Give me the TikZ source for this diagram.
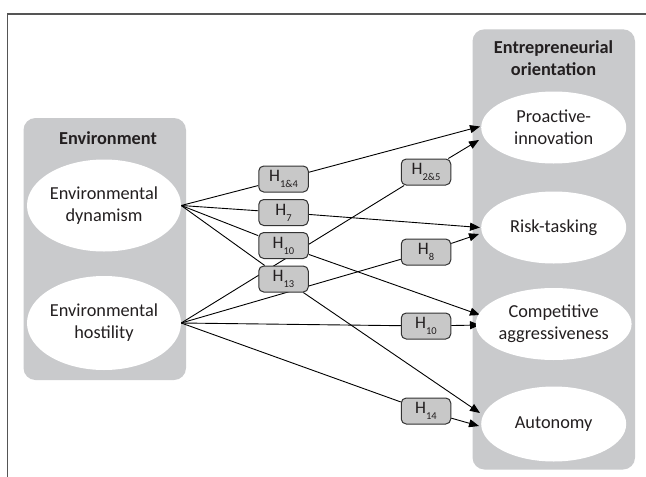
\documentclass[tikz,border=0pt]{standalone}
\usepackage{fontspec}
\setmainfont{Carlito}
\usetikzlibrary{shapes.geometric,arrows.meta}
\pgfdeclarelayer{back}
\pgfdeclarelayer{lines}
\pgfsetlayers{back,lines,main}
\definecolor{boxgray}{HTML}{C9CACC}
\definecolor{hgray}{HTML}{C8C8C8}
\definecolor{framec}{HTML}{555555}
\definecolor{txt}{HTML}{231F20}
\newcommand{\hsub}[1]{H\raisebox{-6pt}{\fontsize{10.5}{10.5}\selectfont #1}}
\begin{document}
\begin{tikzpicture}[x=1pt,y=-1pt,
  ell/.style={ellipse, fill=white, inner sep=0pt, align=center, font=\fontsize{18.3}{22}\selectfont, text=txt},
  hyp/.style={rectangle, rounded corners=5pt, fill=hgray, draw=black!80, line width=1pt, minimum width=49.5pt, minimum height=26pt, inner sep=0pt, font=\fontsize{17.5}{17.5}\selectfont, text=txt},
  conn/.style={line width=0.9pt, black},
  arr/.style={conn, -{Triangle[length=10pt,width=8pt]}},
  container/.style={fill=boxgray, rounded corners=12pt},
  title/.style={font=\bfseries\fontsize{18.3}{22}\selectfont, align=center, text=txt}]
\useasboundingbox (0,0) rectangle (646,477);
\begin{pgfonlayer}{back}
  \fill[white] (0,0) rectangle (646,477);
  \draw[framec, line width=1.5pt] (7.3,478) -- (7.3,14) -- (647,14);
  \fill[container] (23.5,118) rectangle (186,380);
  \fill[container] (472.5,29.3) rectangle (635,469.5);
\end{pgfonlayer}
% titles
\node[title] (envt) at (108,138.5) {Environment};
\node[title] (eot) at (553.5,58) {Entrepreneurial\\orientation};
% ellipses
\node[ell, minimum width=154pt, minimum height=92pt] (dyn) at (104,205.5) {Environmental\\dynamism};
\node[ell, minimum width=154pt, minimum height=94pt] (host) at (104,323) {Environmental\\hostility};
\node[ell, minimum width=145pt, minimum height=72pt] (pro) at (553.7,127.5) {Proactive-\\innovation};
\node[ell, minimum width=145pt, minimum height=72pt] (risk) at (553.7,227.5) {Risk-tasking};
\node[ell, minimum width=145pt, minimum height=72pt] (comp) at (553.7,324) {Competitive\\aggressiveness};
\node[ell, minimum width=145pt, minimum height=75pt] (auto) at (553.7,424) {Autonomy};
% hypothesis boxes
\node[hyp] (h14) at (283.5,179) {\hsub{1\&4}};
\node[hyp] (h7) at (283.5,212.5) {\hsub{7}};
\node[hyp] (h10a) at (283.5,245.5) {\hsub{10}};
\node[hyp] (h13) at (283.5,279) {\hsub{13}};
\node[hyp] (h25) at (426,172) {\hsub{2\&5}};
\node[hyp] (h8) at (426,252) {\hsub{8}};
\node[hyp] (h10b) at (426,326) {\hsub{10}};
\node[hyp] (h14b) at (426,411) {\hsub{14}};
% arrow tips
\coordinate (tP1) at (480,126.5);
\coordinate (tP2) at (479,140);
\coordinate (tR1) at (480,227.5);
\coordinate (tR2) at (479,234);
\coordinate (tC1) at (480,315);
\coordinate (tC2) at (480,325);
\coordinate (tA1) at (480,413);
\coordinate (tA2) at (479,426);
\begin{pgfonlayer}{lines}
  \draw[conn] (dyn.east) -- (h14);
  \draw[arr] (h14) -- (tP1);
  \draw[conn] (dyn.east) -- (h7);
  \draw[arr] (h7) -- (tR1);
  \draw[conn] (dyn.east) -- (h10a);
  \draw[arr] (h10a) -- (tC1);
  \draw[conn] (dyn.east) -- (h13);
  \draw[arr] (h13) -- (tA1);
  \draw[conn] (host.east) -- (h25);
  \draw[arr] (h25) -- (tP2);
  \draw[conn] (host.east) -- (h8);
  \draw[arr] (h8) -- (tR2);
  \draw[conn] (host.east) -- (h10b);
  \draw[arr] (h10b) -- (tC2);
  \draw[conn] (host.east) -- (h14b);
  \draw[arr] (h14b) -- (tA2);
\end{pgfonlayer}
\end{tikzpicture}
\end{document}
